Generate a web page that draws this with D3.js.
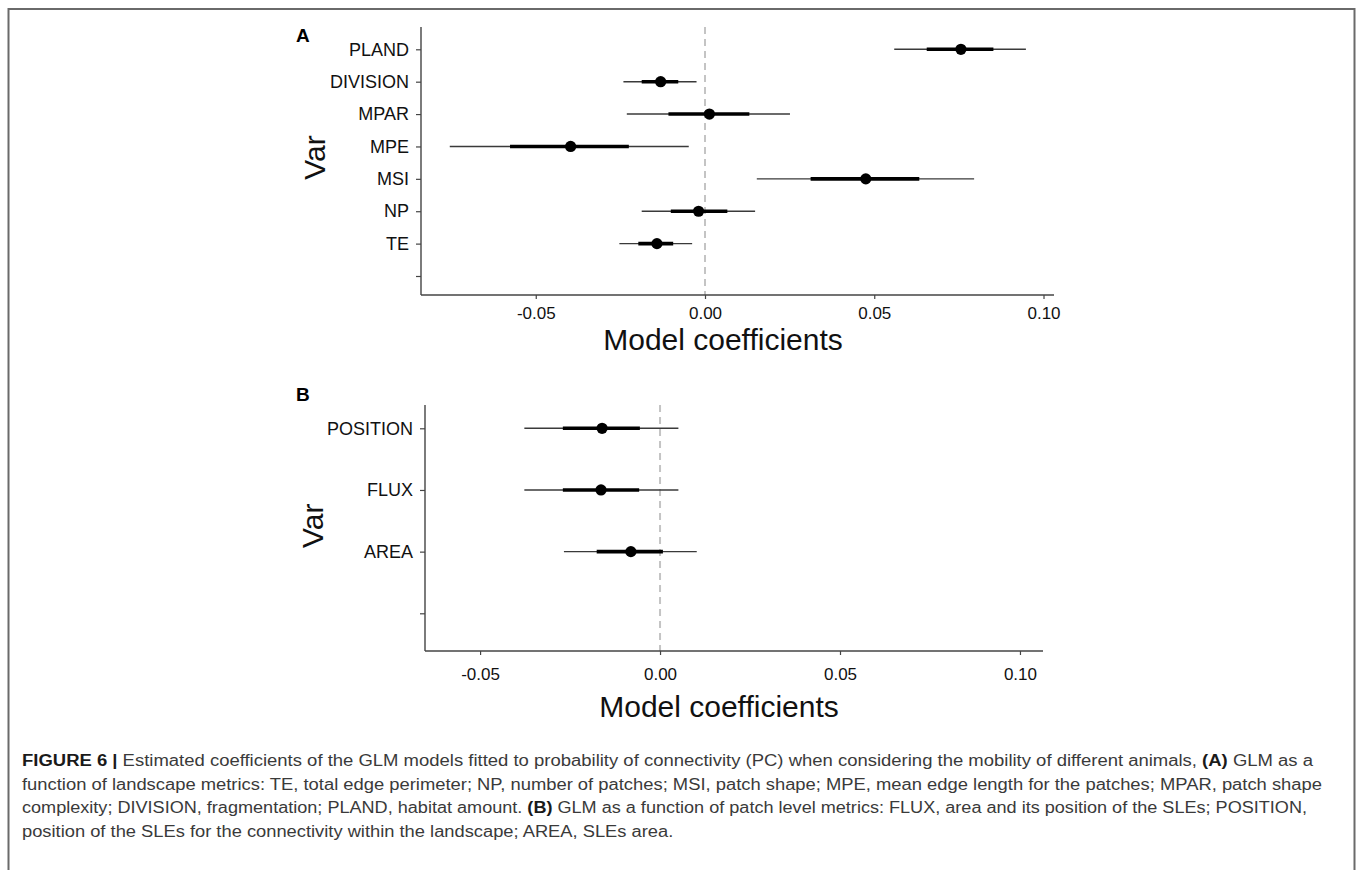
<!DOCTYPE html>
<html>
<head>
<meta charset="utf-8">
<script src="https://cdn.jsdelivr.net/npm/d3@7"></script>
<style>
  html, body { margin: 0; padding: 0; background: #fff; }
  svg { display: block; font-family: "Liberation Sans", Arial, sans-serif; }
</style>
</head>
<body>
<svg id="fig" width="1360" height="870"></svg>
<script>
// ---------- DATA ----------
const varsA  = ["PLAND", "DIVISION", "MPAR", "MPE", "MSI", "NP", "TE", ""];
const estA   = [0.0756, -0.0131, 0.0013, -0.0397, 0.0475, -0.0019, -0.0142];
const lo50A  = [0.0655, -0.0187, -0.0108, -0.0576, 0.0312, -0.0101, -0.0197];
const hi50A  = [0.0852, -0.0079, 0.0131, -0.0225, 0.0633, 0.0066, -0.0094];
const lo95A  = [0.0559, -0.0241, -0.0231, -0.0754, 0.0153, -0.0187, -0.0253];
const hi95A  = [0.0948, -0.0025, 0.0251, -0.0048, 0.0795, 0.0148, -0.0038];

const varsB  = ["POSITION", "FLUX", "AREA", ""];
const estB   = [-0.0161, -0.0164, -0.0081];
const lo50B  = [-0.0270, -0.0270, -0.0176];
const hi50B  = [-0.0056, -0.0058, 0.0008];
const lo95B  = [-0.0377, -0.0377, -0.0267];
const hi95B  = [0.0051, 0.0051, 0.0102];

const xTickValues = [-0.05, 0.00, 0.05, 0.10];
const xTickLabels = ["-0.05", "0.00", "0.05", "0.10"];
const xTitle = "Model coefficients";
const yTitle = "Var";

const captionLines = [
  [["b", "FIGURE 6 | "], ["n", "Estimated coefficients of the GLM models fitted to probability of connectivity (PC) when considering the mobility of different animals, "], ["b", "(A)"], ["n", " GLM as a"]],
  [["n", "function of landscape metrics: TE, total edge perimeter; NP, number of patches; MSI, patch shape; MPE, mean edge length for the patches; MPAR, patch shape"]],
  [["n", "complexity; DIVISION, fragmentation; PLAND, habitat amount. "], ["b", "(B)"], ["n", " GLM as a function of patch level metrics: FLUX, area and its position of the SLEs; POSITION,"]],
  [["n", "position of the SLEs for the connectivity within the landscape; AREA, SLEs area."]]
];

// ---------- DRAW ----------
const svg = d3.select("#fig");

// frame
svg.append("path")
  .attr("d", "M8.5,870 V9 H1354.5 V870")
  .attr("fill", "none").attr("stroke", "#6a6a6a").attr("stroke-width", 2);

function panel(cfg) {
  const g = svg.append("g");
  const x = d3.scaleLinear().domain(cfg.xDomain).range([cfg.left, cfg.right]);
  const y = d3.scalePoint().domain(cfg.vars).range([cfg.yFirst, cfg.yLast]);

  // zero reference line
  g.append("line")
    .attr("x1", x(0)).attr("x2", x(0))
    .attr("y1", cfg.top).attr("y2", cfg.bottom)
    .attr("stroke", "#c4c4c4").attr("stroke-width", 2)
    .attr("stroke-dasharray", "7,5");

  // axes
  const xAxis = d3.axisBottom(x).tickValues(xTickValues)
    .tickFormat((d, i) => xTickLabels[i]).tickSize(4).tickPadding(cfg.xPad).tickSizeOuter(0);
  const gx = g.append("g").attr("transform", `translate(0,${cfg.bottom})`).call(xAxis);
  gx.select(".domain").attr("d", `M${cfg.left},0H${cfg.right}`);

  const yAxis = d3.axisLeft(y).tickSize(5).tickPadding(7).tickSizeOuter(0);
  const gy = g.append("g").attr("transform", `translate(${cfg.left},0)`).call(yAxis);
  gy.select(".domain").attr("d", `M0,${cfg.top}V${cfg.bottom}`);

  [gx, gy].forEach(a => {
    a.select(".domain").attr("stroke", "#444").attr("stroke-width", 1.4);
    a.selectAll(".tick line").attr("stroke", "#444").attr("stroke-width", 1.2);
    a.selectAll(".tick text").attr("fill", "#111")
      .style("font-family", "'Liberation Sans', Arial, sans-serif");
  });
  gx.selectAll(".tick text").style("font-size", "17px");
  gy.selectAll(".tick text").style("font-size", "18px");

  // marks
  const rows = cfg.est.map((e, i) => ({
    v: cfg.vars[i], e, lo50: cfg.lo50[i], hi50: cfg.hi50[i], lo95: cfg.lo95[i], hi95: cfg.hi95[i]
  }));
  g.selectAll(".thin").data(rows).join("line")
    .attr("x1", d => x(d.lo95)).attr("x2", d => x(d.hi95))
    .attr("y1", d => y(d.v)).attr("y2", d => y(d.v))
    .attr("stroke", "#3a3a3a").attr("stroke-width", 1.4);
  g.selectAll(".thick").data(rows).join("line")
    .attr("x1", d => x(d.lo50)).attr("x2", d => x(d.hi50))
    .attr("y1", d => y(d.v)).attr("y2", d => y(d.v))
    .attr("stroke", "#000").attr("stroke-width", 3.6);
  g.selectAll(".pt").data(rows).join("circle")
    .attr("cx", d => x(d.e)).attr("cy", d => y(d.v)).attr("r", 5.6)
    .attr("fill", "#000");

  // titles
  g.append("text").attr("x", cfg.xTitleX).attr("y", cfg.xTitleY)
    .attr("text-anchor", "middle").attr("font-size", 30).attr("fill", "#111")
    .text(xTitle);
  g.append("text")
    .attr("transform", `translate(${cfg.yTitleX},${cfg.yTitleY}) rotate(-90)`)
    .attr("text-anchor", "middle").attr("font-size", 30).attr("fill", "#111")
    .text(yTitle);
  g.append("text").attr("x", cfg.tagX).attr("y", cfg.tagY)
    .attr("font-size", 19).attr("font-weight", "bold").attr("fill", "#000")
    .text(cfg.tag);
}

panel({
  vars: varsA, est: estA, lo50: lo50A, hi50: hi50A, lo95: lo95A, hi95: hi95A,
  xDomain: [-0.0839, 0.1031], left: 421, right: 1054, top: 27, bottom: 295,
  yFirst: 49.3, yLast: 276, xPad: 8,
  xTitleX: 723, xTitleY: 350, yTitleX: 325, yTitleY: 157.5,
  tag: "A", tagX: 296, tagY: 42
});

panel({
  vars: varsB, est: estB, lo50: lo50B, hi50: hi50B, lo95: lo95B, hi95: hi95B,
  xDomain: [-0.0653, 0.1064], left: 425, right: 1043, top: 405, bottom: 651,
  yFirst: 428.3, yLast: 613.3, xPad: 13,
  xTitleX: 719, xTitleY: 717, yTitleX: 323, yTitleY: 525.7,
  tag: "B", tagX: 296, tagY: 401
});

// caption
const capBase = [766, 790, 813, 837];
const capWidth = [1291, 1300, 1285, null];
const capNodes = captionLines.map((parts, i) => {
  const t = svg.append("text").attr("x", 22).attr("y", capBase[i])
    .attr("font-size", 16).attr("fill", "#3a3a3a");
  parts.forEach(([w, s]) => {
    t.append("tspan").attr("font-weight", w === "b" ? "bold" : "normal")
      .attr("fill", w === "b" ? "#1a1a1a" : "#3a3a3a").text(s);
  });
  return t;
});
const natural = capNodes.map(t => t.node().getComputedTextLength());
const factors = capWidth.slice(0, 3).map((w, i) => w / natural[i]);
const meanFactor = d3.mean(factors);
capNodes.forEach((t, i) => {
  const w = capWidth[i] != null ? capWidth[i] : natural[i] * meanFactor;
  t.attr("textLength", w).attr("lengthAdjust", "spacingAndGlyphs");
});
</script>
</body>
</html>
